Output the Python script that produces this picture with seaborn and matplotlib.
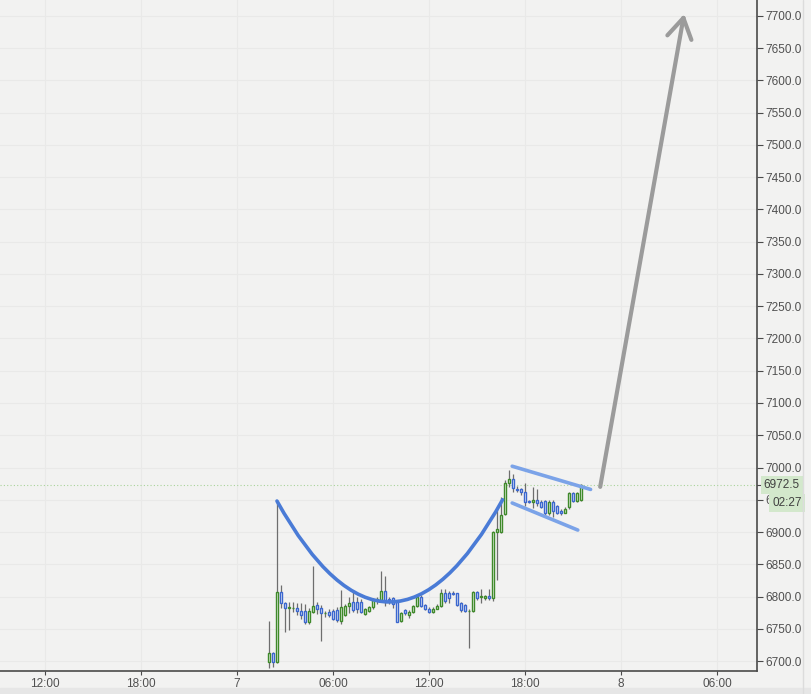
import numpy as np
import matplotlib
matplotlib.use("Agg")
import matplotlib.pyplot as plt
from matplotlib import font_manager
from matplotlib.path import Path
from matplotlib.patches import PathPatch, Rectangle
import seaborn as sns

# 15-min candles, day 7 from 02:00 (x in hours from day 7 00:00)
candle_start = 2.0
candle_step = 0.25
opens = [6698, 6712, 6699, 6807, 6790, 6782, 6782, 6782, 6778, 6778, 6760, 6776, 6787, 6782, 6774, 6776,
         6778, 6779, 6762, 6772, 6786, 6792, 6792, 6792, 6773, 6778, 6783, 6794, 6795, 6808, 6796, 6797,
         6791, 6762, 6779, 6772, 6776, 6785, 6800, 6787, 6781, 6776, 6781, 6786, 6805, 6805, 6806, 6805,
         6790, 6787, 6778, 6778, 6807, 6799, 6797, 6801, 6798, 6900, 6900, 6928, 6976, 6982, 6966, 6966,
         6962, 6948, 6946, 6950, 6947, 6948, 6929, 6947, 6940, 6933, 6930, 6939, 6960, 6948, 6950]
closes = [6712, 6699, 6807, 6790, 6782, 6783, 6782, 6777, 6772, 6760, 6778, 6785, 6781, 6774, 6774, 6771,
          6765, 6763, 6784, 6786, 6790, 6779, 6780, 6776, 6780, 6783, 6795, 6796, 6808, 6794, 6795, 6788,
          6761, 6774, 6774, 6776, 6785, 6800, 6786, 6781, 6776, 6781, 6786, 6805, 6793, 6798, 6804, 6787,
          6779, 6778, 6778, 6807, 6798, 6801, 6801, 6798, 6900, 6904, 6926, 6976, 6982, 6968, 6965, 6962,
          6947, 6947, 6949, 6945, 6939, 6929, 6947, 6933, 6930, 6929, 6936, 6960, 6948, 6960, 6972.5]
highs = [6762, 6714, 6950, 6818, 6792, 6792, 6792, 6790, 6790, 6788, 6782, 6847, 6792, 6787, 6777, 6780,
         6780, 6784, 6810, 6789, 6800, 6809, 6800, 6796, 6782, 6786, 6797, 6800, 6840, 6832, 6800, 6800,
         6794, 6776, 6781, 6779, 6787, 6802, 6802, 6789, 6783, 6783, 6788, 6812, 6812, 6808, 6808, 6806,
         6791, 6789, 6780, 6809, 6809, 6812, 6803, 6811, 6902, 6935, 6954, 6980, 6996, 6990, 6972, 6968,
         6976, 6950, 6970, 6967, 6950, 6950, 6949, 6949, 6942, 6935, 6938, 6962, 6962, 6962, 6975]
lows = [6689, 6690, 6697, 6782, 6745, 6748, 6776, 6772, 6765, 6758, 6758, 6774, 6773, 6731, 6768, 6768,
        6763, 6760, 6758, 6770, 6775, 6776, 6774, 6774, 6771, 6776, 6781, 6788, 6793, 6786, 6789, 6782,
        6760, 6760, 6772, 6767, 6775, 6784, 6784, 6779, 6775, 6775, 6780, 6784, 6790, 6790, 6803, 6786,
        6776, 6776, 6720, 6776, 6795, 6790, 6795, 6795, 6793, 6826, 6898, 6926, 6970, 6962, 6962, 6958,
        6940, 6945, 6937, 6940, 6937, 6927, 6927, 6923, 6928, 6927, 6929, 6935, 6946, 6946, 6948]

last_price = 6972.5
countdown = "02:27"

xtick_pos = [-12, -6, 0, 6, 12, 18, 24, 30]
xtick_labels = ["12:00", "18:00", "7", "06:00", "12:00", "18:00", "8", "06:00"]
ytick_vals = list(range(6700, 7701, 50))

# drawn annotations (hours, price)
cup_pts = [(2.5, 6948), (9.56, 6634), (16.6, 6950)]  # quadratic bezier
flag_upper = ([17.2, 22.1], [7002, 6966])
flag_lower = ([17.2, 21.3], [6945, 6903])
arrow_shaft = ([22.7, 27.9], [6970, 7697])
arrow_left = ([26.9, 27.9], [7670, 7697])
arrow_right = ([28.4, 27.9], [7663, 7697])

BG = "#f2f2f1"
GREEN = "#3f8a2a"
BLUE = "#3b67cf"
WICK = "#6e6e6e"

sns.set_theme(style="white", rc={"axes.facecolor": BG, "figure.facecolor": BG})
names = {f.name for f in font_manager.fontManager.ttflist}
fam = "Liberation Sans Narrow" if "Liberation Sans Narrow" in names else "Liberation Sans"
plt.rcParams["font.family"] = [fam, "DejaVu Sans"]

fig = plt.figure(figsize=(8.11, 6.94), dpi=100)
ax = fig.add_axes([0, 23 / 694, 757 / 811, 671 / 694])
fig.patches.append(Rectangle((0, 0), 1, 6 / 694, transform=fig.transFigure, color="#e6e6e6", zorder=0))
fig.lines.append(plt.Line2D([803 / 811, 803 / 811], [0, 1], transform=fig.transFigure, color="#dcdcdc", lw=1))

x = candle_start + candle_step * np.arange(len(opens))
o = np.array(opens); c = np.array(closes)
up = c >= o
cols = np.where(up, GREEN, BLUE)

ax.vlines(x, lows, highs, color=WICK, lw=0.9, zorder=2)
ax.bar(x, c - o, bottom=o, width=0.18, facecolor="#f7f7f5", edgecolor=cols, linewidth=1.0, zorder=3)

# current price line
ax.axhline(last_price, color="#a9d49a", lw=0.8, ls=(0, (1, 2)), zorder=1)

# cup
path = Path(cup_pts, [Path.MOVETO, Path.CURVE3, Path.CURVE3])
ax.add_patch(PathPatch(path, facecolor="none", edgecolor="#4a7bd6", lw=2.6, zorder=4, capstyle="round"))

# flag
for xs, ys in (flag_upper, flag_lower):
    sns.lineplot(x=xs, y=ys, ax=ax, color="#7ba3e8", lw=2.6, zorder=4)

# arrow
for xs, ys in (arrow_shaft, arrow_left, arrow_right):
    sns.lineplot(x=xs, y=ys, ax=ax, color="#9b9b9b", lw=3.0, zorder=4)

ax.set_xlim(-14.81, 32.5)
ax.set_ylim(6684.5, 7724.8)
ax.set_xticks(xtick_pos)
ax.set_xticklabels(xtick_labels)
ax.set_yticks(ytick_vals)
ax.set_yticklabels([f"{v:.1f}" for v in ytick_vals])
ax.yaxis.tick_right()
ax.set_xlabel("")
ax.set_ylabel("")
ax.grid(True, color="#e9e9e8", lw=0.8)
ax.set_axisbelow(True)
for s in ("top", "left"):
    ax.spines[s].set_visible(False)
for s in ("bottom", "right"):
    ax.spines[s].set_color("#4a4a4a")
    ax.spines[s].set_linewidth(1.2)
ax.tick_params(axis="y", which="both", right=True, length=4, width=0.8, color="#4a4a4a",
               labelsize=8.5, labelcolor="#505050", pad=2)
ax.tick_params(axis="x", bottom=True, length=3, width=0.8, color="#4a4a4a",
               labelsize=8.5, labelcolor="#505050", pad=2)

# price / countdown tags on the right
ytr = ax.get_yaxis_transform()
ax.plot([1.0, 1.006], [last_price, last_price], transform=ytr, color="#4a4a4a", lw=0.8, clip_on=False)
ax.text(1.009, last_price, f"{last_price:.1f}", transform=ytr, va="center", ha="left", fontsize=8.5,
        color="#404040", bbox=dict(boxstyle="square,pad=0.25", fc="#d3e8cc", ec="none"), zorder=6)
ax.text(1.02, last_price - 27.5, countdown, transform=ytr, va="center", ha="left", fontsize=8.5,
        color="#404040", bbox=dict(boxstyle="square,pad=0.25", fc="#d3e8cc", ec="none"), zorder=6)

fig.savefig("out.png", dpi=100, facecolor=BG)
